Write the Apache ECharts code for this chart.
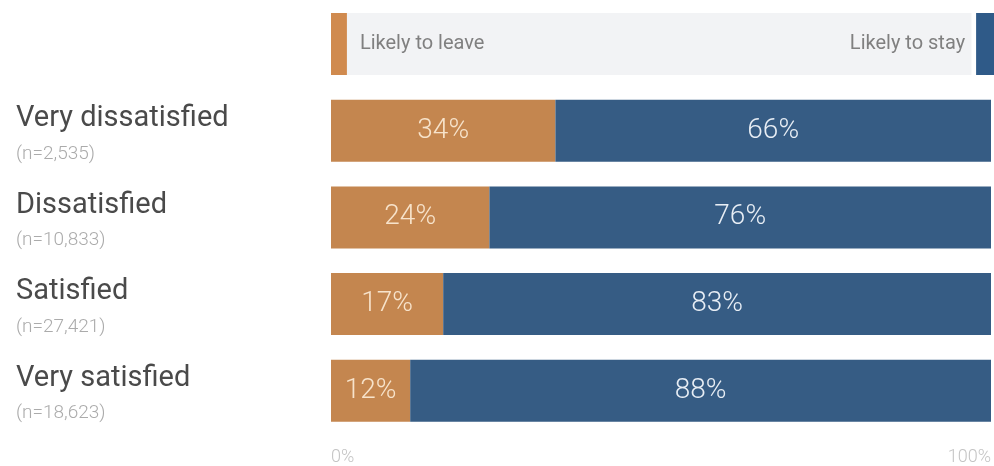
<!DOCTYPE html>
<html>
<head>
<meta charset="utf-8">
<script src="https://cdn.jsdelivr.net/npm/echarts@6/dist/echarts.min.js"></script>
<style>
  html, body { margin: 0; padding: 0; background: #fff; }
  #chart { width: 994px; height: 466px; }
</style>
</head>
<body>
<div id="chart"></div>
<script>
// data
const categories = ['Very dissatisfied', 'Dissatisfied', 'Satisfied', 'Very satisfied']
const sampleSizes = ['2,535', '10,833', '27,421', '18,623']
const leaveValues = [34, 24, 17, 12]
const stayValues = [66, 76, 83, 88]
const axisTicks = [0, 100]
// legend strip: orange swatch, grey band, gap, blue swatch (share of width)
const legendParts = [2.4, 94.2, 0.7, 2.7]
const legendNames = ['Likely to leave', 'Likely to stay']

const orange = '#c4864f'
const blue = '#365c84'

let chart = echarts.init(document.getElementById('chart'))

const option = {
  animation: false,
  textStyle: { fontFamily: 'Roboto, sans-serif' },
  grid: [
    { left: 331, right: 0, top: 13, height: 62 },
    { left: 331, right: 0, top: 87.5, height: 348 }
  ],
  xAxis: [
    { gridIndex: 0, type: 'value', min: 0, max: 100, show: false },
    {
      gridIndex: 1, type: 'value', min: axisTicks[0], max: axisTicks[1], interval: 100,
      axisLine: { show: false }, axisTick: { show: false }, splitLine: { show: false },
      axisLabel: {
        margin: 14, color: '#c4c4c4', fontSize: 18, fontWeight: 300,
        alignMinLabel: 'left', alignMaxLabel: 'right',
        formatter: v => v + '%'
      }
    }
  ],
  yAxis: [
    { gridIndex: 0, type: 'category', data: ['legend'], show: false },
    {
      gridIndex: 1, type: 'category', inverse: true,
      data: categories.map((c, i) => c + '|' + sampleSizes[i]),
      axisLine: { show: false }, axisTick: { show: false },
      axisLabel: {
        align: 'left', margin: 315, padding: [6, 0, 0, 0],
        formatter: v => {
          const p = v.split('|')
          return '{a|' + p[0] + '}\n{b|(n=' + p[1] + ')}'
        },
        rich: {
          a: { fontSize: 29, color: '#4a4a4a', lineHeight: 40 },
          b: { fontSize: 19, color: '#ababab', fontWeight: 300, lineHeight: 30 }
        }
      }
    }
  ],
  series: [
    {
      type: 'bar', xAxisIndex: 0, yAxisIndex: 0, stack: 'lg', barWidth: 62,
      data: [legendParts[0]], itemStyle: { color: '#d08a4e' },
      label: { show: true, position: 'right', distance: 13, formatter: legendNames[0], color: '#808080', fontSize: 20 }
    },
    {
      type: 'bar', xAxisIndex: 0, yAxisIndex: 0, stack: 'lg', barWidth: 62,
      data: [legendParts[1]], itemStyle: { color: '#f2f3f5' }, z: 1
    },
    {
      type: 'bar', xAxisIndex: 0, yAxisIndex: 0, stack: 'lg', barWidth: 62,
      data: [legendParts[2]], itemStyle: { color: 'rgba(0,0,0,0)' }
    },
    {
      type: 'bar', xAxisIndex: 0, yAxisIndex: 0, stack: 'lg', barWidth: 62,
      data: [legendParts[3]], itemStyle: { color: '#2f5a88' },
      label: { show: true, position: 'left', distance: 11, formatter: legendNames[1], color: '#808080', fontSize: 20 }
    },
    {
      name: 'Likely to leave', type: 'bar', xAxisIndex: 1, yAxisIndex: 1, stack: 'total',
      barWidth: 62, data: leaveValues, itemStyle: { color: orange },
      label: { show: true, position: 'inside', formatter: '{c}%', color: '#f7e3cb', fontSize: 28, fontWeight: 300 }
    },
    {
      name: 'Likely to stay', type: 'bar', xAxisIndex: 1, yAxisIndex: 1, stack: 'total',
      barWidth: 62, data: stayValues, itemStyle: { color: blue },
      label: { show: true, position: 'inside', formatter: '{c}%', color: '#e8eef5', fontSize: 28, fontWeight: 300 }
    }
  ]
}

chart.setOption(option)
</script>
</body>
</html>
